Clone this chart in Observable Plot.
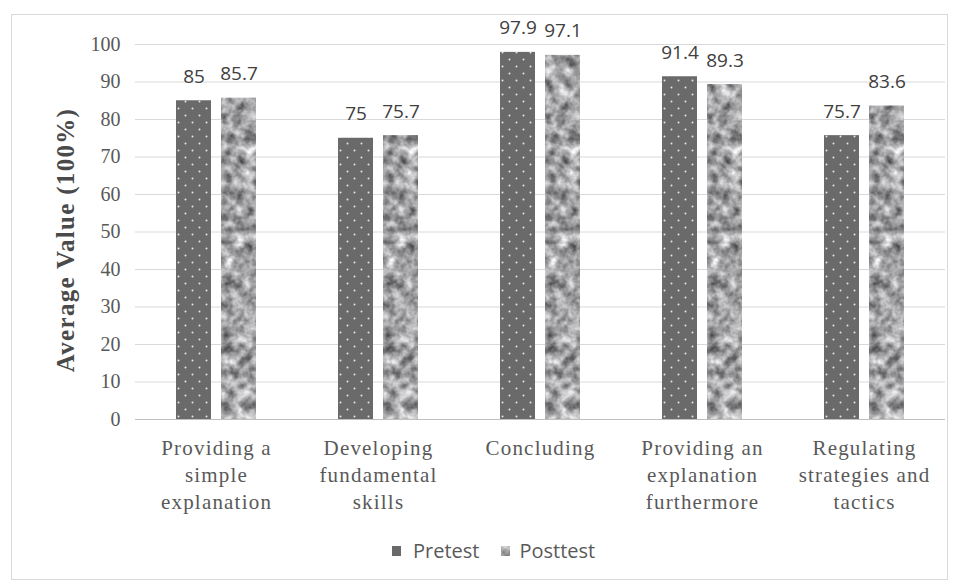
<!DOCTYPE html>
<html>
<head>
<meta charset="utf-8">
<script src="https://cdn.jsdelivr.net/npm/d3@7"></script>
<script src="https://cdn.jsdelivr.net/npm/@observablehq/plot@0.6"></script>
<style>
  html, body { margin: 0; padding: 0; background: #fff; }
  #wrap { position: relative; width: 959px; height: 583px; overflow: hidden; }
  #frame { position: absolute; left: 11px; top: 14px; width: 937px; height: 566px; border: 1px solid #d9d9d9; box-sizing: border-box; }
  #chart { position: absolute; left: 0; top: 0; }
  #legend { position: absolute; left: 392px; top: 537px; display: flex; align-items: center;
            font-family: "Open Sans", sans-serif; font-size: 20px; color: #595959; }
  #legend .sw { width: 9px; height: 10px; display: inline-block; }
  #legend .item { display: flex; align-items: center; }
</style>
</head>
<body>
<svg width="0" height="0" style="position:absolute">
  <defs>
    <!-- dotted fill for the pretest bars -->
    <pattern id="dots" patternUnits="userSpaceOnUse" width="14" height="14">
      <rect width="14" height="14" fill="#6a6a6a"></rect>
      <circle cx="3.5" cy="3.5" r="1" fill="#e6e6e6"></circle>
      <circle cx="10.5" cy="10.5" r="1" fill="#e6e6e6"></circle>
    </pattern>
    <!-- granite-like fill for the posttest bars -->
    <filter id="graniteFx" color-interpolation-filters="sRGB">
      <feTurbulence type="fractalNoise" baseFrequency="0.09" numOctaves="3" seed="7"></feTurbulence>
      <feColorMatrix type="matrix" values="1.0 0 0 0 0.14  1.0 0 0 0 0.14  1.0 0 0 0 0.15  0 0 0 0 1"></feColorMatrix>
    </filter>
    <pattern id="granite" patternUnits="userSpaceOnUse" width="959" height="583">
      <rect width="959" height="583" filter="url(#graniteFx)"></rect>
    </pattern>
  </defs>
</svg>
<div id="wrap">
  <div id="frame"></div>
  <div id="chart"></div>
  <div id="legend">
    <span class="item"><svg class="sw" width="9" height="10"><rect width="9" height="10" fill="#6a6a6a"></rect></svg><span style="margin-left:12px">Pretest</span></span>
    <span class="item" style="margin-left:22px"><svg class="sw" width="9" height="10"><rect width="9" height="10" fill="url(#granite)"></rect></svg><span style="margin-left:9px">Posttest</span></span>
  </div>
</div>
<script>
const categories = [
  "Providing a simple explanation",
  "Developing fundamental skills",
  "Concluding",
  "Providing an explanation furthermore",
  "Regulating strategies and tactics"
];
const categoryLabels = [
  "Providing a\nsimple\nexplanation",
  "Developing\nfundamental\nskills",
  "Concluding",
  "Providing an\nexplanation\nfurthermore",
  "Regulating\nstrategies and\ntactics"
];
const seriesNames = ["Pretest", "Posttest"];
const pretest = [85, 75, 97.9, 91.4, 75.7];
const posttest = [85.7, 75.7, 97.1, 89.3, 83.6];
const yTicks = [0, 10, 20, 30, 40, 50, 60, 70, 80, 90, 100];
const yTitle = "Average Value (100%)";

const preRows = categories.map((c, i) => ({category: c, series: seriesNames[0], value: pretest[i]}));
const postRows = categories.map((c, i) => ({category: c, series: seriesNames[1], value: posttest[i]}));
const rows = preRows.concat(postRows);
const labelRows = categories.map((c, i) => ({category: c, label: categoryLabels[i]}));

const serif = "'Liberation Serif', 'Times New Roman', serif";

const chart = Plot.plot({
  width: 959,
  height: 583,
  marginLeft: 135,
  marginRight: 14,
  marginTop: 44,
  marginBottom: 164,
  style: {background: "transparent", overflow: "visible"},
  fx: {domain: categories, padding: 0, axis: null},
  x: {domain: seriesNames, paddingInner: 0.217, paddingOuter: 0.87, axis: null},
  y: {domain: [0, 100], axis: null},
  marks: [
    Plot.gridY(yTicks, {stroke: "#d9d9d9", strokeOpacity: 1}),
    Plot.ruleY([0], {stroke: "#bfbfbf"}),
    Plot.axisY({ticks: yTicks, tickSize: 0, tickPadding: 15, tickFormat: d => String(d),
      fontSize: 20, fontFamily: serif, fill: "#595959", label: null}),
    Plot.barY(preRows, {fx: "category", x: "series", y: "value", fill: "url(#dots)"}),
    Plot.barY(postRows, {fx: "category", x: "series", y: "value", fill: "url(#granite)"}),
    Plot.text(rows, {fx: "category", x: "series", y: "value", text: d => String(d.value),
      lineAnchor: "bottom", dy: -18, fontSize: 19, fontFamily: "'Open Sans', sans-serif", fill: "#404040"}),
    Plot.text(labelRows, {fx: "category", text: "label", frameAnchor: "bottom", lineAnchor: "top",
      dy: 16, fontSize: 21, lineHeight: 1.29, fontFamily: serif, fill: "#595959"}),
    Plot.text([yTitle], {frameAnchor: "left", textAnchor: "middle", rotate: -90, dx: -70, dy: 8,
      facetAnchor: "left", fontSize: 25, fontWeight: "bold", fontFamily: serif, fill: "#4a4a4a"})
  ]
});

document.getElementById("chart").appendChild(chart);

// slight tracking on the serif labels, as in the original typesetting
const svg = d3.select(chart);
svg.selectAll("text").filter(function() { return this.textContent === yTitle; })
  .style("letter-spacing", "1.3px");
svg.selectAll("tspan").filter(function() {
  return categoryLabels.some(l => l.split("\n").includes(this.textContent));
}).style("letter-spacing", "1.2px");
svg.selectAll("text").filter(function() {
  return categoryLabels.includes(this.textContent);
}).style("letter-spacing", "1.2px");
</script>
</body>
</html>
